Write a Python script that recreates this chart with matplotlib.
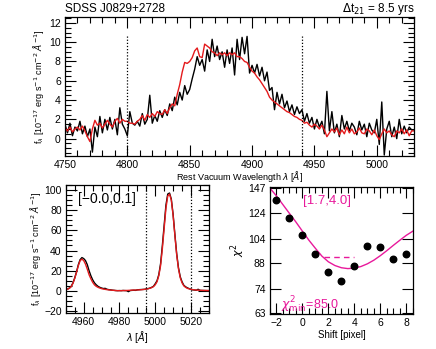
import numpy as np
import matplotlib
matplotlib.use("Agg")
import matplotlib.pyplot as plt
from matplotlib.ticker import MultipleLocator, FixedLocator, NullLocator, FixedFormatter

plt.rcParams['font.family'] = ['Liberation Sans', 'DejaVu Sans']
plt.rcParams['mathtext.fontset'] = 'dejavusans'

MAG = '#e8199b'

# ---- top panel: broad Hbeta, two epochs
wave_top = np.arange(4750, 5031, 2)
flux_ep2 = [1.5, 0.6, 1.6, 0.3, 1.2, 0.8, 1.8, 0.5, 1.3, 0.2,
            1.0, -1.4, 1.2, 0.2, 2.3, 0.6, 2.0, 0.9, 2.2, 1.0,
            2.0, 0.4, 3.2, 1.5, 1.0, 0.3, 2.8, 1.6, 1.4, 1.8,
            1.3, 2.6, 1.5, 2.0, 4.5, 1.6, 2.4, 1.8, 2.9, 2.2,
            3.0, 2.4, 3.6, 2.9, 4.3, 3.5, 4.8, 4.0, 5.5, 4.6,
            5.1, 6.2, 7.2, 8.5, 7.6, 8.2, 7.0, 9.2, 8.0, 10.3,
            8.5, 9.6, 8.2, 9.0, 7.4, 9.2, 7.8, 9.4, 6.6, 10.3,
            8.2, 10.5, 8.8, 10.6, 6.8, 7.6, 6.8, 7.7, 6.5, 7.4,
            6.0, 6.9, 5.0, 5.3, 3.0, 4.8, 3.6, 4.6, 3.2, 3.9,
            2.8, 3.5, 2.5, 3.3, 2.6, 3.0, 1.8, 2.6, 1.6, 2.2,
            1.0, 2.0, 1.2, 1.8, 0.5, 4.9, 0.8, 2.8, 0.6, 1.5,
            0.2, 2.4, 1.0, 1.8, 0.8, 1.6, 1.2, 0.4, 1.8, 0.9,
            1.5, 0.2, 1.6, 0.9, 0.6, 2.0, -0.6, 3.8, -1.7, 1.0,
            1.8, 0.2, 1.2, 0.0, 2.0, 0.5, 1.3, 0.6, 1.2, 0.9,
            0.9]
flux_ep1 = [1.1, 0.8, 1.2, 0.7, 1.0, 1.2, 0.9, 1.3, 0.8, 0.2,
            -0.3, 1.0, 1.9, 1.4, 1.6, 1.1, 1.5, 1.9, 1.5, 1.2,
            1.8, 2.1, 1.6, 2.0, 1.8, 1.8, 1.6, 1.6, 1.5, 1.8,
            2.0, 2.4, 1.9, 2.5, 2.2, 2.6, 2.3, 2.8, 2.6, 2.5,
            3.0, 2.6, 3.2, 3.6, 3.4, 4.6, 5.6, 6.9, 7.9, 7.8,
            8.0, 8.4, 9.1, 9.4, 8.5, 8.4, 9.8, 9.6, 9.4, 9.0,
            8.9, 8.6, 8.9, 8.7, 8.9, 8.6, 8.9, 8.7, 8.9, 8.5,
            8.5, 8.3, 8.0, 7.9, 7.4, 7.0, 6.8, 6.4, 6.1, 5.7,
            5.3, 4.9, 4.3, 4.0, 3.8, 3.6, 3.4, 3.2, 3.0, 2.8,
            2.7, 2.5, 2.3, 2.2, 2.0, 1.9, 1.6, 1.7, 1.4, 1.2,
            1.5, 1.3, 1.0, 1.4, 0.9, 0.2, 0.6, 1.0, 0.7, 1.1,
            0.4, 0.9, 0.5, 1.2, 0.6, 1.0, 0.5, 0.7, 1.1, 0.6,
            0.5, 1.0, 0.8, 0.4, 0.9, 0.3, -0.1, 0.5, 1.0, 0.6,
            0.8, 0.4, 0.2, 0.8, 0.6, 1.0, 0.5, 0.9, 0.3, 0.8,
            0.8]
win_top = [4800, 4940]

# ---- bottom left: [OIII] doublet
wave_o3 = np.arange(4950, 5031, 1)
o3_ep2 = [1.2, 1.8, 2.8, 4.5, 8.0, 13, 19, 26, 31, 33,
          32, 30, 26, 20, 15, 11, 8.0, 6.0, 4.5, 3.5,
          2.8, 2.3, 2.5, 1.6, 1.2, 1.0, 0.7, 0.5, 0.3, 0.2,
          0.3, 0.2, 0.4, 0.3, 0.2, -0.8, 0.3, 0.5, 0.6, 0.5,
          1.0, 1.2, 1.3, 1.4, 1.5, 1.9, 2.2, 2.8, 3.5, 4.5,
          7.0, 10, 16, 27, 45, 65, 85, 96, 97, 91,
          76, 56, 37, 23, 14, 9.0, 5.5, 4.0, 3.0, 2.2,
          1.5, 1.0, 0.8, 0.6, 1.6, 0.5, 0.4, 0.4, 0.3, 0.3,
          0.2]
o3_ep1 = [1.0, 1.6, 2.6, 4.2, 7.5, 12.5, 18.5, 25, 30, 31.5,
          30, 26.5, 21.5, 16, 12, 8.5, 6.0, 4.5, 3.5, 2.8,
          2.2, 1.8, 1.5, 1.2, 1.0, 0.8, 0.6, 0.5, 0.3, 0.2,
          0.2, 0.2, 0.3, 0.3, 0.4, 0.5, 0.6, 0.7, 0.8, 0.8,
          0.9, 1.0, 1.1, 1.3, 1.5, 1.8, 2.1, 2.6, 3.2, 4.2,
          6.0, 9.0, 15, 25, 42, 62, 82, 94, 96, 90,
          75, 55, 36, 22, 13, 8.0, 5.0, 3.5, 2.5, 2.0,
          1.5, 1.2, 1.0, 0.8, 0.7, 0.6, 0.5, 0.4, 0.4, 0.3,
          0.3]
win_o3 = [4995, 5020]

# ---- bottom right: chi2 vs shift
shift = [-2, -1, 0, 1, 2, 3, 4, 5, 6, 7, 8]
chi2 = [135.5, 119.7, 107.0, 94.1, 82.8, 78.3, 86.3, 99.3, 98.2, 90.4, 93.7]
fit_x = [-2.5, -2, -1.5, -1, -0.5, 0, 0.5, 1, 1.5, 2, 2.5, 3, 3.5, 4,
         4.5, 5, 5.5, 6, 6.5, 7, 7.5, 8, 8.5]
fit_y = [146.5, 139.0, 131.0, 123.5, 116.5, 109.5, 103.0, 97.5, 92.5, 89.0,
         86.8, 85.5, 85.0, 85.3, 86.2, 87.8, 90.0, 92.8, 96.0, 99.5,
         103.0, 106.5, 109.5]
shift_range = [1.7, 4.0]
chi2_level = 92.0
chi2_ticks = [63, 74, 88, 104, 124, 147]


def idl_ticks(ax):
    ax.tick_params(which='both', direction='in', top=True, right=True,
                   labelsize=7.5, width=0.8, pad=3)
    ax.tick_params(which='major', length=8)
    ax.tick_params(which='minor', length=4)
    for s in ax.spines.values():
        s.set_linewidth(0.9)


fig = plt.figure(figsize=(4.36, 3.49), dpi=100)

ylab = r'f$_\lambda$ [10$^{-17}$ erg s$^{-1}$ cm$^{-2}$ $\AA^{-1}$]'

ax1 = fig.add_axes([0.149, 0.553, 0.801, 0.398])
ax1.plot(wave_top, flux_ep2, color='black', lw=1.0)
ax1.plot(wave_top, flux_ep1, color='#e41a1c', lw=1.0)
for w in win_top:
    ax1.plot([w, w], [-1.8, 10.6], color='black', ls=(0, (1, 1.5)), lw=0.9)
ax1.set_xlim(4750, 5030)
ax1.set_ylim(-1.8, 12.6)
ax1.xaxis.set_major_locator(MultipleLocator(50))
ax1.xaxis.set_minor_locator(MultipleLocator(10))
ax1.yaxis.set_major_locator(MultipleLocator(2))
ax1.yaxis.set_minor_locator(MultipleLocator(0.5))
idl_ticks(ax1)
ax1.set_xlabel(r'Rest Vacuum Wavelength $\lambda$ [$\AA$]', fontsize=6.5, labelpad=-1)
ax1.set_ylabel(ylab, fontsize=6.5, labelpad=2)
ax1.set_title('SDSS J0829+2728', loc='left', fontsize=8.5, pad=2)
ax1.set_title(r'$\Delta$t$_{21}$ = 8.5 yrs', loc='right', fontsize=8.5, pad=2)

ax2 = fig.add_axes([0.151, 0.103, 0.328, 0.367])
ax2.plot(wave_o3, o3_ep2, color='black', lw=1.0)
ax2.plot(wave_o3, o3_ep1, color='#e41a1c', lw=1.0)
for w in win_o3:
    ax2.axvline(w, color='black', ls=(0, (1, 1.5)), lw=0.9)
ax2.set_xlim(4950, 5030)
ax2.set_ylim(-22, 105)
ax2.xaxis.set_major_locator(MultipleLocator(20))
ax2.xaxis.set_minor_locator(MultipleLocator(5))
ax2.yaxis.set_major_locator(MultipleLocator(20))
ax2.yaxis.set_minor_locator(MultipleLocator(5))
idl_ticks(ax2)
ax2.set_xlabel(r'$\lambda$ [$\AA$]', fontsize=7, labelpad=1)
ax2.set_ylabel(ylab, fontsize=6.5, labelpad=1)
ax2.text(0.085, 0.89, '[\u22120.0,0.1]', transform=ax2.transAxes, fontsize=10,
         va='center', ha='left')

ax3 = fig.add_axes([0.619, 0.100, 0.328, 0.364])
ax3.set_yscale('log')
ax3.plot(fit_x, fit_y, color=MAG, lw=1.0)
ax3.plot(shift_range, [chi2_level, chi2_level], color=MAG, lw=1.0, ls=(0, (4, 3)))
ax3.scatter(shift, chi2, color='black', s=22, zorder=3)
ax3.set_xlim(-2.5, 8.5)
ax3.set_ylim(62.5, 147.5)
ax3.xaxis.set_major_locator(MultipleLocator(2))
ax3.xaxis.set_minor_locator(MultipleLocator(0.5))
ax3.yaxis.set_major_locator(FixedLocator(chi2_ticks))
ax3.yaxis.set_major_formatter(FixedFormatter([str(t) for t in chi2_ticks]))
ax3.yaxis.set_minor_locator(NullLocator())
idl_ticks(ax3)
ax3.set_xlabel('Shift [pixel]', fontsize=7, labelpad=1)
ax3.set_ylabel(r'$\chi^2$', fontsize=8, labelpad=1)
ax3.text(0.40, 0.89, '[1.7,4.0]', transform=ax3.transAxes, fontsize=9.5,
         color=MAG, ha='center', va='center')
ax3.text(0.075, 0.075, r'$\chi^2_{\rm min}$=85.0', transform=ax3.transAxes,
         fontsize=9, color=MAG, ha='left', va='center')

fig.savefig('out.png', dpi=100)
